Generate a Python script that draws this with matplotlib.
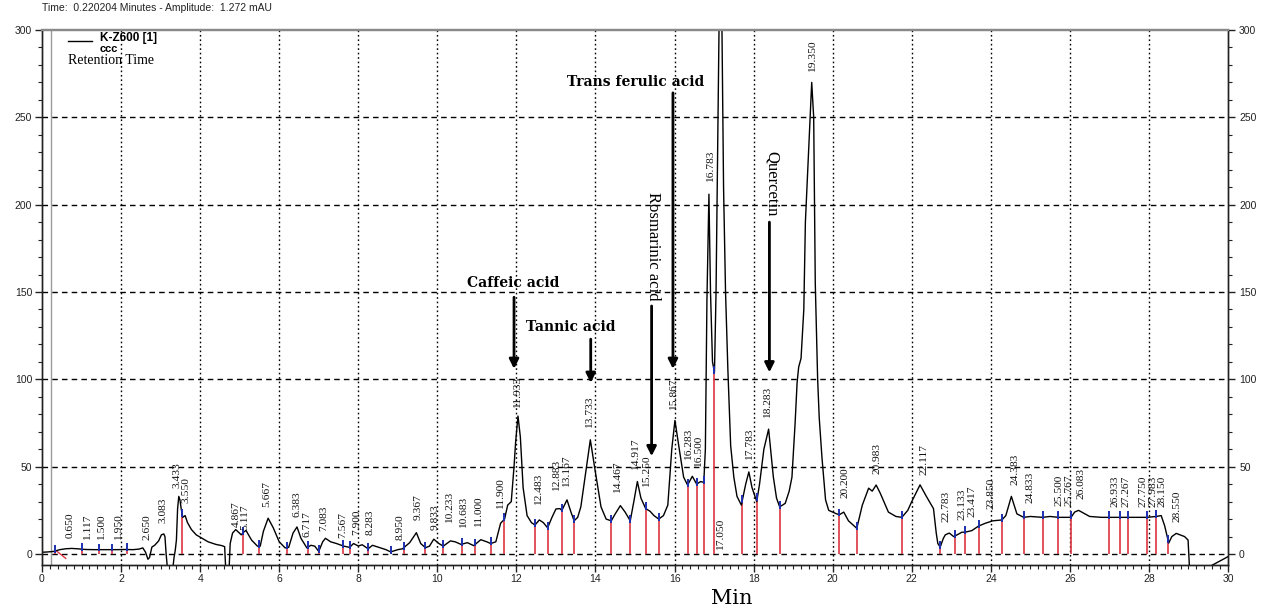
import numpy as np
import matplotlib
matplotlib.use("Agg")
import matplotlib.pyplot as plt
from matplotlib.ticker import MultipleLocator

# ---------------- data ----------------
time_min = [
    0.0, 0.15, 0.3, 0.45, 0.6, 0.75, 0.9, 1.1, 1.3, 1.5,
    1.7, 1.9, 2.1, 2.3, 2.45, 2.55, 2.62, 2.68, 2.72, 2.78,
    2.85, 2.95, 3.02, 3.08, 3.11, 3.14, 3.18, 3.3, 3.34, 3.37,
    3.4, 3.43, 3.46, 3.49, 3.52, 3.56, 3.62, 3.68, 3.78, 3.9,
    4.05, 4.2, 4.4, 4.55, 4.62, 4.65, 4.73, 4.76, 4.82, 4.9,
    4.97, 5.04, 5.1, 5.16, 5.3, 5.45, 5.52, 5.6, 5.72, 5.85,
    6.0, 6.15, 6.24, 6.35, 6.45, 6.55, 6.7, 6.8, 6.9, 7.0,
    7.1, 7.17, 7.3, 7.45, 7.62, 7.7, 7.78, 7.88, 8.0, 8.1,
    8.25, 8.36, 8.56, 8.7, 8.82, 9.0, 9.12, 9.3, 9.47, 9.58,
    9.7, 9.8, 9.91, 10.04, 10.15, 10.33, 10.45, 10.6, 10.76, 10.92,
    11.1, 11.25, 11.35, 11.48, 11.6, 11.7, 11.78, 11.87, 11.94, 11.98,
    12.04, 12.1, 12.17, 12.27, 12.38, 12.47, 12.58, 12.68, 12.79, 12.9,
    13.0, 13.1, 13.15, 13.28, 13.38, 13.46, 13.55, 13.63, 13.76, 13.87,
    13.99, 14.14, 14.27, 14.4, 14.5, 14.63, 14.75, 14.88, 14.97, 15.06,
    15.15, 15.27, 15.38, 15.48, 15.6, 15.72, 15.83, 15.93, 16.01, 16.12,
    16.23, 16.33, 16.45, 16.56, 16.66, 16.74, 16.78, 16.82, 16.87, 16.91,
    16.96, 17.01, 17.05, 17.09, 17.13, 17.17, 17.2, 17.24, 17.29, 17.35,
    17.42, 17.5, 17.58, 17.69, 17.8, 17.88, 17.96, 18.08, 18.15, 18.26,
    18.38, 18.5, 18.58, 18.66, 18.8, 18.9, 18.97, 19.05, 19.1, 19.14,
    19.2, 19.27, 19.31, 19.4, 19.47, 19.52, 19.56, 19.62, 19.66, 19.73,
    19.82, 19.9, 20.1, 20.17, 20.28, 20.4, 20.61, 20.75, 20.91, 21.0,
    21.1, 21.2, 21.41, 21.6, 21.75, 21.9, 22.0, 22.21, 22.37, 22.55,
    22.62, 22.66, 22.72, 22.8, 22.85, 22.95, 23.06, 23.15, 23.27, 23.35,
    23.52, 23.69, 23.86, 24.05, 24.28, 24.38, 24.52, 24.66, 24.83, 25.0,
    25.31, 25.5, 25.71, 26.03, 26.12, 26.22, 26.5, 26.8, 27.0, 27.5,
    27.96, 28.18, 28.31, 28.4, 28.5, 28.58, 28.69, 28.9, 28.99, 29.03,
    29.55, 30.0,
]
amp_mau = [
    1.0, 1.2, 1.5, 2.5, 3.0, 3.2, 3.0, 2.6, 2.5, 2.5,
    2.5, 2.5, 2.6, 2.5, 2.8, 3.5, 1.0, -3.0, -2.0, 4.0,
    5.0, 7.5, 11.0, 11.5, 10.0, 0.0, -10.0, -10.0, -2.0, 2.0,
    8.0, 26.0, 33.0, 31.0, 26.0, 21.0, 22.0, 18.0, 14.0, 11.0,
    9.0, 7.0, 5.5, 4.8, 4.2, -10.0, -10.0, 6.0, 12.0, 14.0,
    12.5, 11.0, 12.5, 13.5, 8.0, 4.5, 4.5, 13.0, 20.5, 15.0,
    7.0, 3.5, 3.8, 12.0, 15.5, 9.0, 3.5, 5.0, 4.5, 1.5,
    7.0, 9.0, 7.0, 6.0, 4.6, 4.2, 3.8, 6.0, 4.6, 5.3,
    3.0, 5.0, 3.5, 2.5, 1.2, 2.5, 3.0, 6.5, 12.2, 6.0,
    3.6, 4.5, 8.5, 6.0, 4.5, 7.5, 7.0, 5.5, 6.5, 4.8,
    8.2, 7.0, 6.0, 7.0, 17.6, 20.0, 28.0, 30.0, 50.0, 64.0,
    79.0, 67.0, 38.0, 22.0, 18.0, 16.6, 19.5, 18.0, 15.0, 21.0,
    25.8, 26.0, 25.0, 31.0, 24.0, 19.0, 21.0, 27.0, 48.0, 65.4,
    48.0, 27.0, 20.0, 19.0, 23.0, 27.7, 24.0, 19.0, 30.0, 41.5,
    32.0, 26.0, 24.5, 22.0, 20.0, 22.0, 28.0, 60.0, 76.5, 60.0,
    44.0, 39.5, 44.5, 40.0, 41.5, 41.0, 60.0, 146.0, 206.0, 150.0,
    110.0, 104.0, 150.0, 230.0, 310.0, 340.0, 300.0, 210.0, 150.0, 105.0,
    62.0, 44.0, 33.0, 28.0, 40.0, 47.0, 38.0, 30.0, 40.0, 60.0,
    71.5, 44.0, 32.0, 27.0, 29.0, 36.0, 44.0, 75.0, 98.0, 107.0,
    112.0, 140.0, 190.0, 235.0, 270.0, 250.0, 155.0, 100.0, 78.0, 55.0,
    31.0, 25.0, 23.0, 22.5, 24.0, 19.0, 14.7, 28.0, 37.7, 36.0,
    39.5, 35.0, 24.0, 21.5, 21.0, 25.0, 30.0, 39.6, 33.0, 26.0,
    12.0, 6.0, 4.0, 9.0, 11.0, 12.0, 10.0, 11.0, 12.5, 12.5,
    13.4, 16.0, 17.6, 19.0, 19.5, 22.0, 33.0, 23.0, 21.0, 21.5,
    21.0, 21.5, 21.0, 21.0, 24.0, 25.0, 21.5, 21.0, 21.0, 21.0,
    21.0, 21.5, 22.0, 16.0, 6.3, 10.0, 11.8, 10.0, 8.0, -10.0,
    -7.0, -1.5,
]

# integration boundaries (red drop lines with blue ticks)
boundaries = [
    0.33, 1.0, 1.44, 1.78, 2.14, 3.55, 5.08, 5.5, 6.2, 6.72, 7.0, 7.62, 7.79,
    8.25, 8.82, 9.15, 9.7, 10.15, 10.62, 10.95, 11.35, 11.69, 12.47, 12.79,
    13.15, 13.46, 14.4, 14.88, 15.27, 15.6, 16.33, 16.56, 16.74, 17.01, 17.71,
    18.09, 18.66, 20.17, 20.61, 21.75, 22.72, 23.1, 23.35, 23.69, 24.28, 24.83,
    25.31, 25.71, 26.03, 27.0, 27.27, 27.46, 27.96, 28.18, 28.49,
]

# retention-time labels
rt_labels = [
    '0.650', '1.117', '1.500', '1.950', '2.650', '3.083', '3.433', '3.550',
    '4.867', '5.117', '5.667', '6.383', '6.717', '7.083', '7.567', '7.900',
    '8.283', '8.950', '9.367', '9.833', '10.233', '10.683', '11.000', '11.900',
    '11.933', '12.483', '12.883', '13.167', '13.733', '14.467', '14.917',
    '15.250', '15.867', '16.283', '16.500', '16.783', '17.050', '17.783',
    '18.283', '19.350', '20.200', '20.983', '22.117', '22.783', '23.133',
    '23.417', '23.850', '24.383', '24.833', '25.500', '25.767', '26.083',
    '26.933', '27.267', '27.750', '27.983', '28.150', '28.550',
]
rt_label_x = [
    0.71, 1.15, 1.51, 1.93, 2.65, 3.07, 3.42, 3.65, 4.92, 5.13, 5.68, 6.44,
    6.7, 7.13, 7.62, 7.96, 8.31, 9.05, 9.52, 9.95, 10.32, 10.67, 11.03, 11.6,
    12.02, 12.57, 13.02, 13.27, 13.84, 14.57, 15.02, 15.29, 15.98, 16.36,
    16.6, 16.91, 17.16, 17.9, 18.36, 19.5, 20.3, 21.12, 22.3, 22.87, 23.27,
    23.52, 24.0, 24.6, 24.98, 25.73, 25.98, 26.29, 27.13, 27.43, 27.86, 28.1,
    28.34, 28.72,
]
rt_label_y = [
    9, 8, 8, 8, 8, 18, 38, 29, 15.5, 14, 27, 21, 10, 13, 9, 11, 11, 8, 19.5,
    14, 18, 15, 15.6, 26, 83.5, 28, 36, 38.6, 72, 35, 48, 38.6, 82.6, 54, 50,
    213, 2.3, 54, 78, 276, 32, 46, 45, 18.5, 19.5, 21, 26, 39.5, 29, 27.5,
    27.5, 31.5, 27, 27, 27, 27, 27, 18.5,
]

# identified compounds
compounds = ['Caffeic acid', 'Tannic acid', 'Rosmarinic acid',
             'Trans ferulic acid', 'Quercetin']
compound_x = [11.94, 13.88, 15.42, 15.96, 18.40]
arrow_tail = [147, 123, 142, 264, 190]
arrow_tip = [106, 98, 56, 106, 104]
compound_text_x = [11.91, 13.38, 15.45, 15.02, 18.46]
compound_text_y = [155, 130, 176, 270, 212]
compound_vertical = [False, False, True, False, True]

# ---------------- figure ----------------
W, H = 1264, 612
fig = plt.figure(figsize=(W / 100, H / 100), dpi=100)
ax = fig.add_axes([42 / W, 1 - 564.5 / H, (1228 - 42) / W, (564.5 - 30) / H])
ax.set_xlim(0, 30)
ax.set_ylim(-6, 300)

# grid
for gx in range(2, 30, 2):
    ax.axvline(gx, color='black', lw=1.0, ls=(0, (1.2, 2.0)), zorder=1)
for gy in range(0, 300, 50):
    ax.axhline(gy, color='black', lw=1.0, ls=(0, (4, 3)), zorder=1)

# cursor line
ax.axvline(0.22, color='#9a9a9a', lw=1.0, zorder=1)

# trace
t = np.array(time_min)
a = np.array(amp_mau)
ax.plot(t, a, color='black', lw=1.0, zorder=4)

# integration markers
b = np.array(boundaries)
bh = np.interp(b, t, a)
ax.vlines(b, 0, bh, color='#dc3540', lw=1.2, zorder=3)
ax.vlines(b, bh - 1, bh + 3.5, color='#1c2fb0', lw=1.4, zorder=5)
ax.plot([0.38, 0.6], [1.5, -2.5], color='#dc3540', lw=1.0, zorder=3)

# retention time labels
for s, x, y in zip(rt_labels, rt_label_x, rt_label_y):
    ax.text(x, y, s, rotation=90, ha='center', va='bottom',
            fontsize=8.2, family='Liberation Serif', color='#111', zorder=6)

# compound annotations
for name, x, y0, y1, tx, ty, vert in zip(compounds, compound_x, arrow_tail,
                                         arrow_tip, compound_text_x,
                                         compound_text_y, compound_vertical):
    ax.annotate('', xy=(x, y1), xytext=(x, y0),
                arrowprops=dict(arrowstyle='-|>', color='black', lw=2.0,
                                mutation_scale=14, shrinkA=0, shrinkB=0),
                zorder=7)
    if vert:
        ax.text(tx, ty, name, rotation=-90, ha='center', va='center',
                fontsize=12, family='Liberation Serif', zorder=7)
    else:
        ax.text(tx, ty, name, ha='center', va='center', fontsize=10,
                fontweight='bold', family='DejaVu Serif', zorder=7)

# legend block
ax.plot([0.66, 1.27], [293.6, 293.6], color='black', lw=1.0)
ax.text(1.47, 295.5, 'K-Z600 [1]', fontsize=8.5, fontweight='bold',
        family='Liberation Sans', va='center', ha='left')
ax.text(1.47, 289.0, 'ccc', fontsize=8, fontweight='bold',
        family='Liberation Sans', va='center', ha='left')
ax.text(0.66, 282.5, 'Retention Time', fontsize=10,
        family='Liberation Serif', va='center', ha='left')

# axes styling
ax.xaxis.set_major_locator(MultipleLocator(2))
ax.xaxis.set_minor_locator(MultipleLocator(0.2))
ax.yaxis.set_major_locator(MultipleLocator(50))
ax.yaxis.set_minor_locator(MultipleLocator(10))
ax.tick_params(axis='both', which='major', direction='out', length=5,
               width=1, labelsize=7.5, colors='#222', pad=2)
ax.tick_params(axis='both', which='minor', direction='out', length=3,
               width=0.8, colors='#222')
ax.tick_params(axis='x', top=False)
for lab in ax.get_xticklabels() + ax.get_yticklabels():
    lab.set_family('Liberation Sans')

ax2 = ax.twinx()
ax2.set_ylim(-6, 300)
ax2.yaxis.set_major_locator(MultipleLocator(50))
ax2.yaxis.set_minor_locator(MultipleLocator(10))
ax2.tick_params(axis='y', which='major', direction='out', length=5,
                width=1, labelsize=7.5, colors='#222', pad=3)
ax2.tick_params(axis='y', which='minor', direction='out', length=3,
                width=0.8, colors='#222')
for lab in ax2.get_yticklabels():
    lab.set_family('Liberation Sans')

for axx in (ax, ax2):
    for side in ('left', 'right', 'bottom'):
        axx.spines[side].set_color('#222')
        axx.spines[side].set_linewidth(1.0)
    axx.spines['top'].set_color('#8a8a8a')
    axx.spines['top'].set_linewidth(1.6)

# header and x label
fig.text(42 / W, 1 - 8 / H, 'Time:  0.220204 Minutes - Amplitude:  1.272 mAU',
         fontsize=7.5, family='Liberation Sans', va='center', ha='left',
         color='#222')
fig.text(732 / W, 1 - 598 / H, 'Min', fontsize=15, family='DejaVu Serif',
         ha='center', va='center')

fig.savefig('out.png', dpi=100)
